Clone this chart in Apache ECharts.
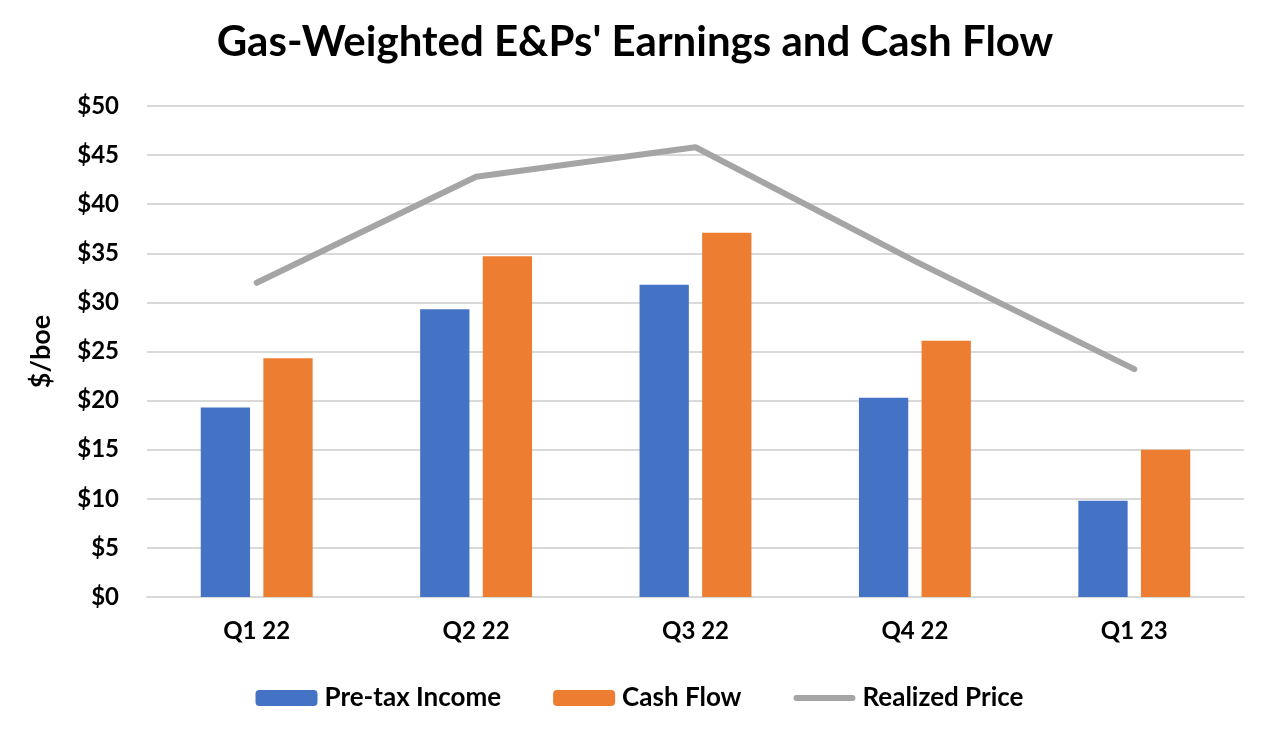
<!DOCTYPE html>
<html>
<head>
<meta charset="utf-8">
<script src="https://cdn.jsdelivr.net/npm/echarts@6/dist/echarts.min.js"></script>
<style>
html,body{margin:0;padding:0;background:#fff;}
#chart{width:1279px;height:736px;}
</style>
</head>
<body>
<div id="chart"></div>
<script>
var categories = ['Q1 22', 'Q2 22', 'Q3 22', 'Q4 22', 'Q1 23'];
var pretaxIncome = [19.3, 29.3, 31.8, 20.3, 9.8];
var cashFlow = [24.3, 34.7, 37.1, 26.1, 15.0];
var realizedPrice = [32.0, 42.8, 45.8, 34.2, 23.2];
var seriesNames = ['Pre-tax Income', 'Cash Flow', 'Realized Price'];

var FONT = 'Lato';
var chart = echarts.init(document.getElementById('chart'));
chart.setOption({
  backgroundColor: '#ffffff',
  animation: false,
  title: {
    text: "Gas-Weighted E&Ps' Earnings and Cash Flow",
    left: 630, top: 16, textAlign: 'center',
    textStyle: { fontFamily: FONT, fontWeight: 'bold', fontSize: 42, color: '#000' }
  },
  grid: { left: 147, right: 35, top: 106, bottom: 139 },
  legend: {
    bottom: 20, left: 'center',
    itemWidth: 62, itemHeight: 16, itemGap: 52,
    textStyle: { fontFamily: FONT, fontWeight: 'bold', fontSize: 26, color: '#000', padding: [0, 0, 0, 2] },
    data: [
      { name: seriesNames[0] },
      { name: seriesNames[1] },
      { name: seriesNames[2], icon: 'path://M3,5h56a3,3 0 0 1 0,6h-56a3,3 0 0 1 0,-6z M0,0h0.01v0.01h-0.01z M62,16h0.01v0.01h-0.01z', itemStyle: { color: '#A5A5A5' } }
    ]
  },
  xAxis: {
    type: 'category', data: categories,
    axisLine: { show: true, lineStyle: { color: '#D9D9D9', width: 2 } },
    axisTick: { show: false },
    axisLabel: { fontFamily: FONT, fontWeight: 'bold', fontSize: 24, color: '#000', margin: 22 }
  },
  yAxis: {
    type: 'value', min: 0, max: 50, interval: 5,
    name: '$/boe', nameLocation: 'middle', nameGap: 92, nameRotate: 90,
    nameTextStyle: { fontFamily: FONT, fontWeight: 'bold', fontSize: 27, color: '#000' },
    axisLine: { show: false }, axisTick: { show: false },
    axisLabel: { fontFamily: FONT, fontWeight: 'bold', fontSize: 24, color: '#000', margin: 28, formatter: function (v) { return '$' + v; } },
    splitLine: { lineStyle: { color: '#D9D9D9', width: 2 } }
  },
  series: [
    { name: seriesNames[0], type: 'bar', data: pretaxIncome, barGap: '27%', barCategoryGap: '49%', itemStyle: { color: '#4472C4' } },
    { name: seriesNames[1], type: 'bar', data: cashFlow, itemStyle: { color: '#ED7D31' } },
    { name: seriesNames[2], type: 'line', data: realizedPrice, symbol: 'none', lineStyle: { color: '#A5A5A5', width: 6, cap: 'round', join: 'round' }, itemStyle: { color: '#A5A5A5' } }
  ]
});
</script>
</body>
</html>
